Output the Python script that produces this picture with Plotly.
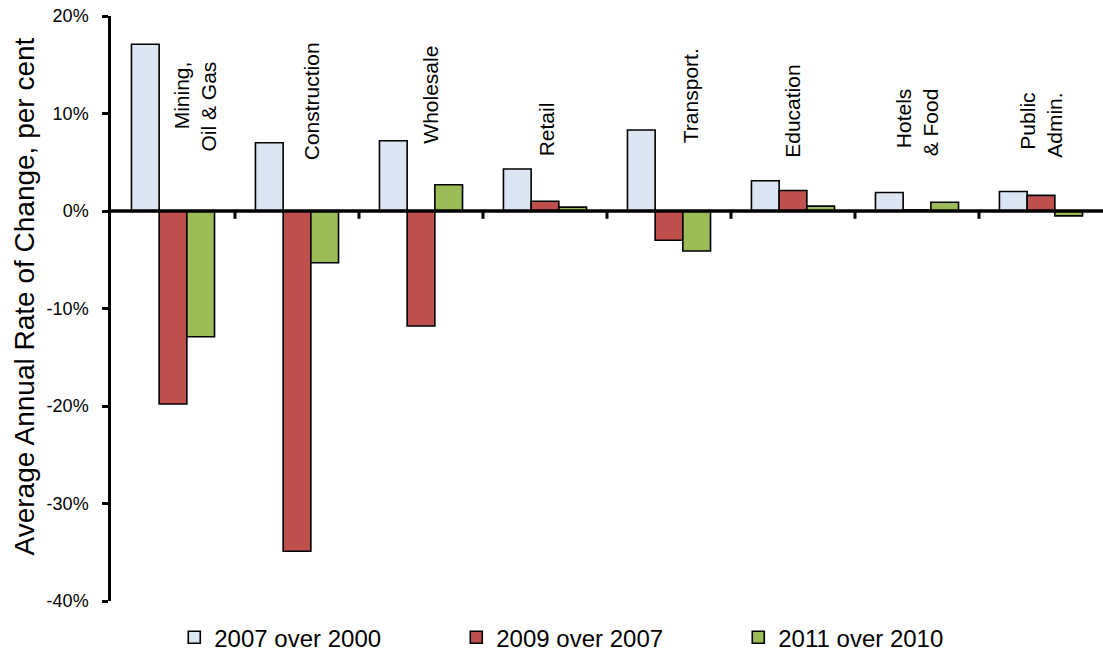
import plotly.graph_objects as go

# Sectors and average annual rates of change (per cent)
sectors = ["Mining,<br>Oil & Gas", "Construction", "Wholesale", "Retail",
           "Transport.", "Education", "Hotels<br>& Food", "Public<br>Admin."]
series_names = ["2007 over 2000", "2009 over 2007", "2011 over 2010"]
chg_2007_over_2000 = [17.1, 7.0, 7.2, 4.3, 8.3, 3.1, 1.9, 2.0]
chg_2009_over_2007 = [-19.8, -34.9, -11.8, 1.0, -3.0, 2.1, 0.1, 1.6]
chg_2011_over_2010 = [-12.9, -5.3, 2.7, 0.4, -4.1, 0.5, 0.9, -0.5]
y_ticks = [-40, -30, -20, -10, 0, 10, 20]
y_tick_text = ["-40%", "-30%", "-20%", "-10%", "0%", "10%", "20%"]

# Label placement above each sector group (bottom edge in % units, horizontal nudge in px)
label_base = [5.9, 5.0, 6.7, 5.4, 6.7, 5.2, 5.4, 5.2]
label_shift = [22, 14, 10, 1, 21, 0, 0, 0]

colors = ["#DCE6F2", "#C0504D", "#9BBB59"]
FONT = "Liberation Sans, Arial, sans-serif"

xs = list(range(len(sectors)))
fig = go.Figure()
for name, vals, col in zip(series_names,
                           [chg_2007_over_2000, chg_2009_over_2007, chg_2011_over_2010],
                           colors):
    fig.add_trace(go.Bar(
        x=xs, y=vals, name=name,
        marker=dict(color=col, line=dict(color="black", width=1.6)),
    ))

shapes = [
    # horizontal axis drawn through zero
    dict(type="line", xref="paper", yref="y", x0=0, x1=1, y0=0, y1=0,
         line=dict(color="black", width=3.5)),
]
# category divider ticks below the zero line
for i in range(len(sectors) - 1):
    shapes.append(dict(type="line", xref="x", yref="y", x0=i + 0.5, x1=i + 0.5,
                       y0=0, y1=-0.8, line=dict(color="black", width=3)))

annotations = []
for i, (lab, base, dx) in enumerate(zip(sectors, label_base, label_shift)):
    annotations.append(dict(
        x=i, y=base, xref="x", yref="y", text=lab, textangle=-90,
        showarrow=False, xanchor="center", yanchor="bottom", xshift=dx,
        align="right", font=dict(family=FONT, size=21, color="black"),
    ))
annotations.append(dict(
    x=-0.087, y=0.52, xref="paper", yref="paper",
    text="Average Annual Rate of Change, per cent", textangle=-90,
    showarrow=False, xanchor="center", yanchor="middle",
    font=dict(family=FONT, size=28, color="black"),
))

fig.update_layout(
    width=1103, height=656,
    margin=dict(l=111, r=0, t=16, b=55),
    paper_bgcolor="white", plot_bgcolor="white",
    barmode="group", bargap=0.33, bargroupgap=0,
    font=dict(family=FONT, color="black"),
    showlegend=True,
    legend=dict(orientation="h", xref="container", yref="container",
                x=0.158, y=0.028, xanchor="left", yanchor="middle",
                font=dict(family=FONT, size=24, color="black"),
                entrywidth=237, entrywidthmode="pixels",
                itemwidth=30, bgcolor="rgba(0,0,0,0)"),
    shapes=shapes,
    annotations=annotations,
)
fig.update_xaxes(range=[-0.5, len(sectors) - 0.5], showticklabels=False,
                 showgrid=False, zeroline=False, showline=False, ticks="")
fig.update_yaxes(range=[-40, 20], tickvals=y_ticks, ticktext=y_tick_text,
                 showgrid=False, zeroline=False,
                 showline=True, linecolor="black", linewidth=2.5,
                 ticks="outside", ticklen=6, tickwidth=2.5, tickcolor="black",
                 ticklabelstandoff=10,
                 tickfont=dict(family=FONT, size=18, color="black"))

fig.write_html("out.html")
